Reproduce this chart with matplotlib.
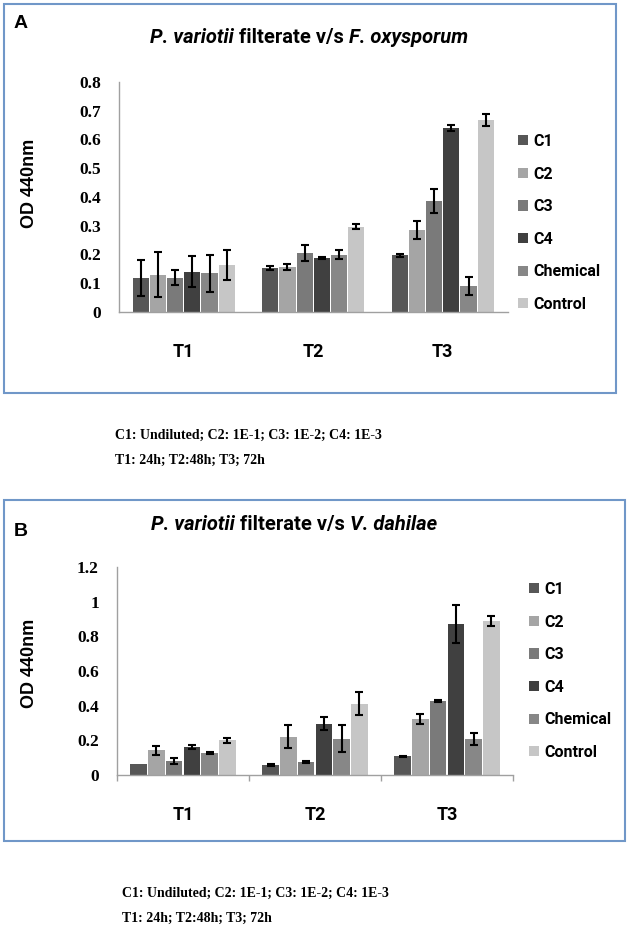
import matplotlib
matplotlib.use('Agg')
import matplotlib.pyplot as plt
from matplotlib.patches import Rectangle
import numpy as np

# groups and series
groups = ['T1', 'T2', 'T3']
series = ['C1', 'C2', 'C3', 'C4', 'Chemical', 'Control']
colors = ['#575757', '#a5a5a5', '#7a7a7a', '#404040', '#878787', '#c6c6c6']

# panel A: P. variotii filterate v/s F. oxysporum (OD 440nm), one list per time point
fox_t1 = [0.119, 0.130, 0.119, 0.140, 0.134, 0.164]
fox_t2 = [0.153, 0.157, 0.205, 0.188, 0.199, 0.297]
fox_t3 = [0.197, 0.286, 0.386, 0.640, 0.089, 0.667]
fox_t1_err = [0.062, 0.077, 0.026, 0.054, 0.065, 0.053]
fox_t2_err = [0.006, 0.010, 0.028, 0.005, 0.016, 0.008]
fox_t3_err = [0.006, 0.031, 0.041, 0.010, 0.031, 0.021]
fox_yticks = ['0', '0.1', '0.2', '0.3', '0.4', '0.5', '0.6', '0.7', '0.8']

# panel B: P. variotii filterate v/s V. dahilae
vd_t1 = [0.062, 0.142, 0.081, 0.160, 0.129, 0.200]
vd_t2 = [0.058, 0.221, 0.073, 0.296, 0.210, 0.412]
vd_t3 = [0.107, 0.323, 0.427, 0.871, 0.209, 0.890]
vd_t1_err = [np.nan, 0.024, 0.017, 0.012, 0.006, 0.016]
vd_t2_err = [0.004, 0.066, 0.005, 0.039, 0.080, 0.067]
vd_t3_err = [0.005, 0.027, 0.004, 0.110, 0.036, 0.030]
vd_yticks = ['0', '0.2', '0.4', '0.6', '0.8', '1', '1.2']

caption_1 = 'C1: Undiluted; C2: 1E-1; C3: 1E-2; C4: 1E-3'
caption_2 = 'T1: 24h; T2:48h; T3; 72h'

W, H = 630, 936
fig = plt.figure(figsize=(W / 100, H / 100), dpi=100)

SANS = 'Roboto'


def fx(px):
    return px / W


def fy(py):
    return 1 - py / H


def panel(ax, vals, errs, ymax, ystep, yticklabels, step, letter, title_parts,
          title_xy, letter_xy, legend_xy, ylabel_xy, xticks_minor):
    x = np.arange(len(groups))
    for i, name in enumerate(series):
        v = [g[i] for g in vals]
        e = [g[i] for g in errs]
        ax.bar(x + (i - 2.5) * step, v, width=step * 0.94, color=colors[i],
               label=name, zorder=2)
        ax.errorbar(x + (i - 2.5) * step, v, yerr=e, fmt='none', ecolor='black',
                    elinewidth=1.5, capsize=3.2, capthick=1.5, zorder=3)
    ax.set_xlim(-0.5, 2.5)
    ax.set_ylim(0, ymax)
    ax.set_yticks(np.arange(len(yticklabels)) * ystep)
    ax.set_yticklabels(yticklabels, family='Liberation Serif', weight='bold',
                       fontsize=12.5)
    ax.set_xticks(x)
    ax.set_xticklabels(groups, family=SANS, weight='bold', fontsize=13)
    ax.tick_params(axis='y', length=0, pad=13)
    ax.tick_params(axis='x', which='major', length=0, pad=22)
    if xticks_minor:
        ax.set_xticks([-0.5, 0.5, 1.5, 2.5], minor=True)
        ax.tick_params(axis='x', which='minor', length=4, color='#a0a0a0',
                       width=1)
    for s in ['top', 'right']:
        ax.spines[s].set_visible(False)
    for s in ['left', 'bottom']:
        ax.spines[s].set_color('#a0a0a0')
        ax.spines[s].set_linewidth(1)

    fig.text(fx(ylabel_xy[0]), fy(ylabel_xy[1]), 'OD 440nm', rotation=90,
             ha='center', va='center', family='Liberation Sans',
             weight='bold', fontsize=13)
    fig.text(fx(letter_xy[0]), fy(letter_xy[1]), letter, ha='left',
             va='center', family='Liberation Sans', weight='bold', fontsize=14)

    # title with mixed italic / upright pieces
    prev = fig.text(fx(title_xy[0]), fy(title_xy[1]), title_parts[0][0],
                    style=title_parts[0][1], weight='bold', family=SANS,
                    fontsize=14.5, va='bottom', ha='left')
    for txt, st in title_parts[1:]:
        prev = ax.annotate(txt, xy=(1, 0), xycoords=prev, va='bottom',
                           ha='left', style=st, weight='bold', family=SANS,
                           fontsize=14.5, annotation_clip=False)

    ax.legend(loc='upper left', bbox_to_anchor=(fx(legend_xy[0]), fy(legend_xy[1])),
              bbox_transform=fig.transFigure, frameon=False, borderpad=0,
              borderaxespad=0, handlelength=0.6, handleheight=0.6,
              handletextpad=0.35, labelspacing=1.1,
              prop={'family': SANS, 'weight': 'bold', 'size': 11.5})


# panel A
axA = fig.add_axes([fx(119), fy(312), fx(388.5), 230 / H])
panel(axA, [fox_t1, fox_t2, fox_t3], [fox_t1_err, fox_t2_err, fox_t3_err],
      0.8, 0.1, fox_yticks, 0.133, 'A',
      [('P. variotii', 'italic'), (' filterate v/s ', 'normal'),
       ('F. oxysporum', 'italic')],
      (150, 47), (14, 24), (518, 134), (30, 183), False)

# panel B
axB = fig.add_axes([fx(117), fy(775), fx(396), 208 / H])
panel(axB, [vd_t1, vd_t2, vd_t3], [vd_t1_err, vd_t2_err, vd_t3_err],
      1.2, 0.2, vd_yticks, 0.134, 'B',
      [('P. variotii', 'italic'), (' filterate v/s ', 'normal'),
       ('V. dahilae', 'italic')],
      (151, 534), (14, 531), (529, 582), (30, 663), True)

# frames round each panel
for (x0, y0, x1, y1) in [(4, 4, 616, 393), (4, 500, 625, 841)]:
    fig.patches.append(Rectangle((fx(x0), fy(y1)), fx(x1 - x0), (y1 - y0) / H,
                                 transform=fig.transFigure, fill=False,
                                 edgecolor='#7097c8', linewidth=1.5))

# captions
for (cx, cy) in [(115, 435), (122, 893)]:
    fig.text(fx(cx), fy(cy), caption_1, family='Liberation Serif',
             weight='bold', fontsize=10, va='center', ha='left')
    fig.text(fx(cx), fy(cy + 25), caption_2, family='Liberation Serif',
             weight='bold', fontsize=10, va='center', ha='left')

fig.savefig('out.png', dpi=100, facecolor='white')
